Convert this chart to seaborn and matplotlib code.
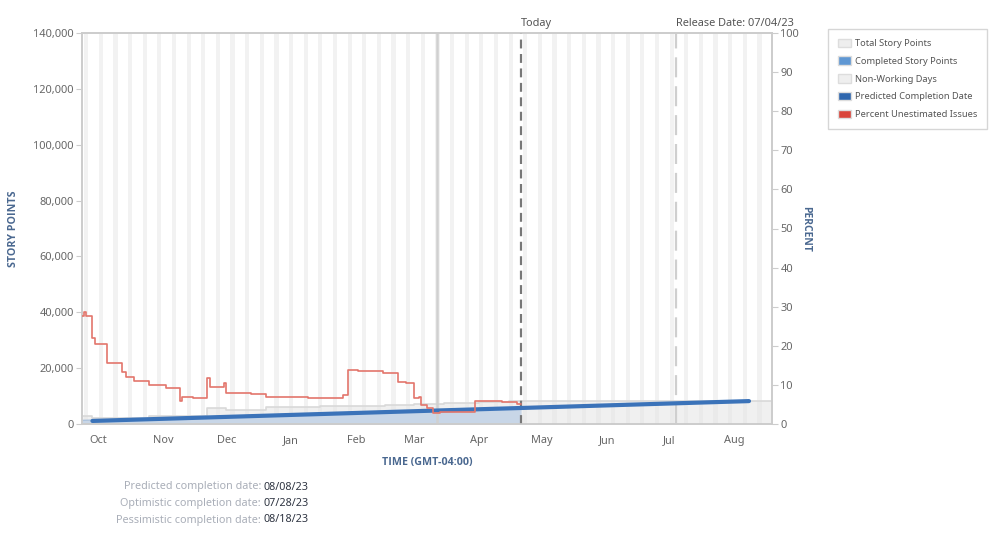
import matplotlib
matplotlib.use("Agg")
import matplotlib.pyplot as plt
import matplotlib.dates as mdates
from matplotlib.patches import Patch
from matplotlib.ticker import FuncFormatter
import pandas as pd
import seaborn as sns

# chart data
x_start = "2022-09-23"
x_end = "2023-08-19"
today = "2023-04-21"
release = "2023-07-04"
marker_day = "2023-03-12"

total_dates = ["2022-09-23", "2022-09-28", "2022-10-10", "2022-10-25", "2022-11-08", "2022-11-22",
               "2022-12-01", "2022-12-20", "2023-01-15", "2023-02-01", "2023-02-15", "2023-03-01",
               "2023-03-15", "2023-04-01", "2023-04-15", "2023-08-19"]
total_points = [2700, 2000, 2300, 2700, 3000, 5700, 5000, 6100, 6300, 6500, 6800, 7200,
                7600, 7900, 8200, 8200]

done_dates = ["2022-09-23", "2022-10-15", "2022-11-15", "2022-12-15", "2023-01-15",
              "2023-02-15", "2023-03-15", "2023-04-21"]
done_points = [1300, 1700, 2400, 3100, 3800, 4400, 5000, 5700]

pred_dates = ["2022-09-28", "2023-08-08"]
pred_points = [1100, 8200]

pct_dates = ["2022-09-23", "2022-09-24", "2022-09-25", "2022-09-28", "2022-09-29", "2022-10-05",
             "2022-10-12", "2022-10-14", "2022-10-18", "2022-10-25", "2022-11-02", "2022-11-09",
             "2022-11-10", "2022-11-15", "2022-11-22", "2022-11-23", "2022-11-30", "2022-12-01",
             "2022-12-13", "2022-12-20", "2023-01-09", "2023-01-26", "2023-01-28", "2023-02-02",
             "2023-02-14", "2023-02-21", "2023-02-25", "2023-03-01", "2023-03-03", "2023-03-04",
             "2023-03-07", "2023-03-10", "2023-03-13", "2023-03-30", "2023-04-12", "2023-04-19",
             "2023-04-21"]
pct_unestimated = [27.6, 28.6, 27.6, 22.0, 20.4, 15.6,
                   13.3, 12.0, 11.0, 10.0, 9.2, 5.9,
                   6.9, 6.7, 11.8, 9.5, 10.5, 7.9,
                   7.7, 6.9, 6.6, 7.4, 13.8, 13.6,
                   13.0, 10.7, 10.5, 6.6, 7.0, 4.9,
                   4.1, 2.8, 3.1, 5.9, 5.6, 5.1,
                   5.1]

summary_labels = ["Predicted completion date:", "Optimistic completion date:", "Pessimistic completion date:"]
summary_values = ["08/08/23", "07/28/23", "08/18/23"]

legend_labels = ["Total Story Points", "Completed Story Points", "Non-Working Days",
                 "Predicted Completion Date", "Percent Unestimated Issues"]

sns.set_style("white")
plt.rcParams['font.family'] = ['Noto Sans', 'DejaVu Sans']

TICK = "#666666"
AXLAB = "#4a6890"
SPINE = "#cccccc"
BOLD = ['Open Sans', 'DejaVu Sans']

fig = plt.figure(figsize=(9.99, 5.33), dpi=100)
ax = fig.add_axes([82 / 999, 109 / 533, 690 / 999, 391 / 533])
ax2 = ax.twinx()

x0, x1 = pd.Timestamp(x_start), pd.Timestamp(x_end)

# weekends
for sat in pd.date_range(x0, x1, freq="W-SAT"):
    ax.axvspan(sat, sat + pd.Timedelta(days=2), color="#f2f2f2", lw=0, zorder=0)

tot = pd.DataFrame({"date": pd.to_datetime(total_dates), "points": total_points})
ax.fill_between(tot["date"], tot["points"], step="post", color="#e6e6e6", alpha=0.6, lw=0, zorder=1)
ax.step(tot["date"], tot["points"], where="post", color="#d9d9d9", lw=1.2, zorder=1.5)

done = pd.DataFrame({"date": pd.to_datetime(done_dates), "points": done_points})
ax.fill_between(done["date"], done["points"], color="#c8d6e7", lw=0, zorder=2)
ax.plot(done["date"], done["points"], color="#adc3dd", lw=1, zorder=2.1)

ax.axvline(pd.Timestamp(marker_day), color="#d0d0d0", lw=1.8, zorder=2.5)
ax.axvline(pd.Timestamp(today), color="#777777", lw=1.6, dashes=(4, 2.5), zorder=3)
ax.axvline(pd.Timestamp(release), color="#cfcfcf", lw=1.6, dashes=(9, 4), zorder=3)

pred = pd.DataFrame({"date": pd.to_datetime(pred_dates), "points": pred_points})
sns.lineplot(data=pred, x="date", y="points", ax=ax, color="#3b73b9", lw=3, zorder=4)

pct = pd.DataFrame({"date": pd.to_datetime(pct_dates), "pct": pct_unestimated})
sns.lineplot(data=pct, x="date", y="pct", ax=ax2, color="#e3766c", lw=1.2,
             drawstyle="steps-post", zorder=5)

ax.set_xlim(x0, x1)
ax.set_ylim(0, 140000)
ax2.set_ylim(0, 100)
ax.set_yticks(range(0, 140001, 20000))
ax2.set_yticks(range(0, 101, 10))
ax.yaxis.set_major_formatter(FuncFormatter(lambda v, p: f"{int(v):,}"))
ax.xaxis.set_major_locator(mdates.MonthLocator())
ax.xaxis.set_major_formatter(mdates.DateFormatter("%b"))

for a in (ax, ax2):
    for s in a.spines.values():
        s.set_color(SPINE)
        s.set_linewidth(1.2)
    a.tick_params(colors=TICK, labelsize=7.9, length=4, width=0.8, color=SPINE, pad=2)
ax.tick_params(axis="x", pad=4)

ax.set_xlabel("TIME (GMT-04:00)", fontsize=7.7, fontweight="bold", color=AXLAB, family=BOLD)
ax.set_ylabel("STORY POINTS", fontsize=7.7, fontweight="bold", color=AXLAB, family=BOLD)
ax2.set_ylabel("PERCENT", fontsize=7.5, fontweight="bold", color=AXLAB, family=BOLD, rotation=-90)
ax.xaxis.set_label_coords(0.5, -0.085)
ax.yaxis.set_label_coords(-0.092, 0.5)
ax2.yaxis.set_label_coords(1.057, 0.5)

# line labels above the plot
ax.text(pd.Timestamp(today), 1.01, "Today", transform=ax.get_xaxis_transform(),
        ha="left", va="bottom", fontsize=7.9, color="#555555")
ax.text(pd.Timestamp(release), 1.01, "Release Date: 07/04/23", transform=ax.get_xaxis_transform(),
        ha="left", va="bottom", fontsize=7.9, color="#555555")

# legend
handles = [Patch(facecolor="#eeeeee", edgecolor="#dddddd"),
           Patch(facecolor="#5f97d3", edgecolor="#dddddd"),
           Patch(facecolor="#efefef", edgecolor="#dddddd"),
           Patch(facecolor="#2f67ae", edgecolor="#dddddd"),
           Patch(facecolor="#d9443a", edgecolor="#dddddd")]
leg = fig.legend(handles, legend_labels, loc="upper left", bbox_to_anchor=(828 / 999, 1 - 29 / 533),
                 fontsize=6.7, frameon=True, fancybox=False, handlelength=1.4, handleheight=1.0,
                 handletextpad=0.45, labelspacing=0.9, borderpad=1.05, borderaxespad=0)
leg.get_frame().set_edgecolor("#cccccc")
leg.get_frame().set_linewidth(1)
for t in leg.get_texts():
    t.set_color("#555555")

# completion summary
for i, (lab, val) in enumerate(zip(summary_labels, summary_values)):
    y = 1 - (487 + 16.5 * i) / 533
    fig.text(261 / 999, y, lab, ha="right", va="center", fontsize=7.8, color="#a9aeb8")
    fig.text(263 / 999, y, val, ha="left", va="center", fontsize=7.8, color="#2f3542")

fig.savefig("out.png", dpi=100)
